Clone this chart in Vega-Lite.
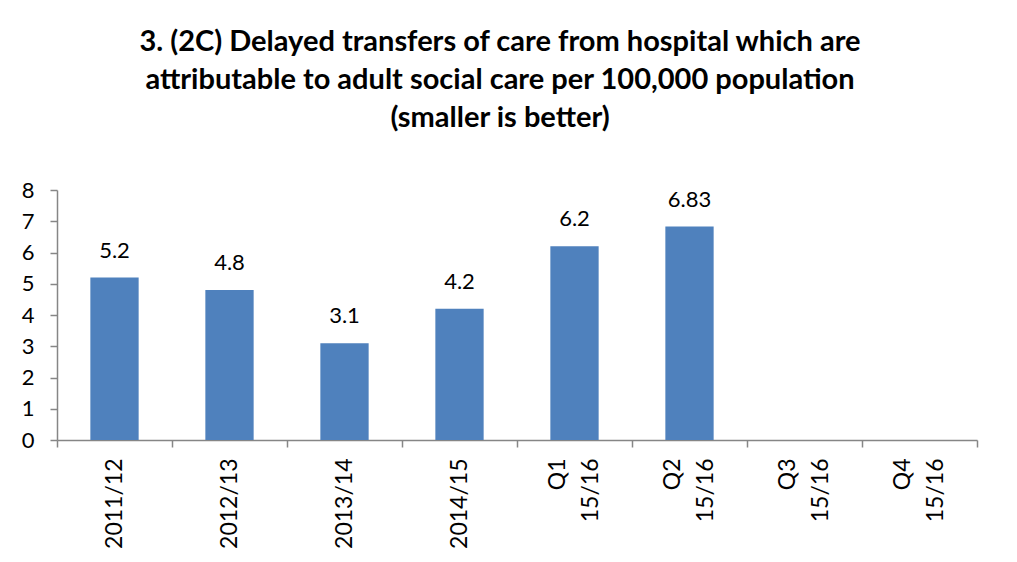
{
  "$schema": "https://vega.github.io/schema/vega-lite/v6.json",
  "width": 920,
  "height": 250,
  "autosize": {"type": "none"},
  "padding": {"left": 57, "top": 190, "right": 40, "bottom": 122},
  "background": "white",
  "title": {
    "text": ["3. (2C) Delayed transfers of care from hospital which are", "attributable to adult social care per 100,000 population", "(smaller is better)"],
    "font": "Lato",
    "fontSize": 29,
    "fontWeight": "bold",
    "color": "#000000",
    "anchor": "middle",
    "frame": "group",
    "dx": -17,
    "offset": 46,
    "lineHeight": 38
  },
  "data": {
    "values": [
      {"period": "2011/12", "value": 5.2, "label": "5.2"},
      {"period": "2012/13", "value": 4.8, "label": "4.8"},
      {"period": "2013/14", "value": 3.1, "label": "3.1"},
      {"period": "2014/15", "value": 4.2, "label": "4.2"},
      {"period": "Q1\n15/16", "value": 6.2, "label": "6.2"},
      {"period": "Q2\n15/16", "value": 6.83, "label": "6.83"},
      {"period": "Q3\n15/16", "value": null, "label": ""},
      {"period": "Q4\n15/16", "value": null, "label": ""}
    ]
  },
  "encoding": {
    "x": {
      "field": "period",
      "type": "nominal",
      "sort": null,
      "scale": {
        "domain": ["2011/12", "2012/13", "2013/14", "2014/15", "Q1\n15/16", "Q2\n15/16", "Q3\n15/16", "Q4\n15/16"],
        "paddingInner": 0,
        "paddingOuter": 0
      },
      "axis": {
        "title": null,
        "labelAngle": -90,
        "labelAlign": "right",
        "labelBaseline": {"condition": {"test": "indexof(datum.label, '\\n') >= 0", "value": "line-bottom"}, "value": "middle"},
        "labelExpr": "split(datum.label, '\\n')",
        "labelFont": "Lato",
        "labelFontSize": 23,
        "labelColor": "#000000",
        "labelPadding": 11,
        "labelLineHeight": 33,
        "tickBand": "extent",
        "tickSize": 7,
        "tickColor": "#868686",
        "domainColor": "#868686",
        "domainWidth": 1.5,
        "tickWidth": 1.5
      }
    },
    "y": {
      "field": "value",
      "type": "quantitative",
      "scale": {"domain": [0, 8]},
      "axis": {
        "title": null,
        "values": [0, 1, 2, 3, 4, 5, 6, 7, 8],
        "grid": false,
        "labelFont": "Lato",
        "labelFontSize": 22,
        "labelColor": "#000000",
        "labelPadding": 16,
        "tickSize": 7,
        "tickColor": "#868686",
        "domainColor": "#868686",
        "domainWidth": 1.5,
        "tickWidth": 1.5
      }
    }
  },
  "layer": [
    {"mark": {"type": "bar", "color": "#4F81BD", "width": {"band": 0.42}}},
    {
      "mark": {"type": "text", "baseline": "alphabetic", "dy": -20, "font": "Lato", "fontSize": 22, "color": "#000000"},
      "encoding": {"text": {"field": "label"}}
    }
  ],
  "config": {"view": {"stroke": null}}
}
